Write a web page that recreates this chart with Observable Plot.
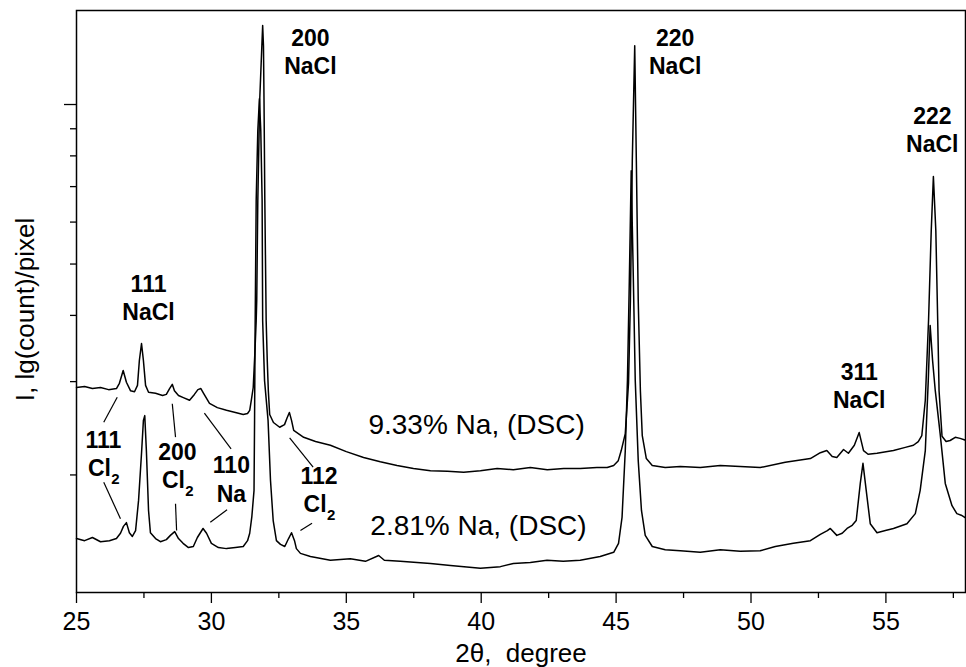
<!DOCTYPE html>
<html><head><meta charset="utf-8">
<script src="https://cdn.jsdelivr.net/npm/d3@7"></script>
<script src="https://cdn.jsdelivr.net/npm/@observablehq/plot@0.6"></script>
<style>html,body{margin:0;padding:0;background:#fff;}</style>
</head><body><div id="chart"></div>
<script>
// 2θ (degree) vs lg(count)
const upper = [[25.00,3.466],[25.30,3.468],[25.59,3.464],[25.89,3.466],[26.19,3.462],[26.48,3.464],[26.59,3.474],[26.73,3.498],[26.85,3.476],[27.00,3.460],[27.15,3.458],[27.26,3.470],[27.33,3.517],[27.41,3.549],[27.48,3.517],[27.56,3.470],[27.67,3.457],[27.93,3.455],[28.19,3.451],[28.33,3.453],[28.45,3.464],[28.55,3.472],[28.63,3.460],[28.78,3.451],[28.96,3.447],[29.19,3.442],[29.37,3.453],[29.50,3.462],[29.61,3.464],[29.71,3.455],[29.93,3.436],[30.22,3.428],[30.56,3.423],[30.89,3.419],[31.18,3.415],[31.34,3.417],[31.42,3.423],[31.48,3.442],[31.55,3.466],[31.61,3.530],[31.66,3.592],[31.68,3.630],[31.72,3.819],[31.79,4.008],[31.87,4.111],[31.90,4.149],[31.93,4.111],[31.95,4.008],[31.98,3.819],[32.03,3.592],[32.07,3.517],[32.11,3.460],[32.16,3.415],[32.30,3.400],[32.53,3.391],[32.71,3.396],[32.80,3.408],[32.89,3.419],[32.97,3.404],[33.05,3.385],[33.42,3.372],[33.86,3.364],[34.41,3.357],[35.00,3.345],[35.64,3.334],[36.26,3.326],[36.88,3.319],[37.49,3.313],[38.12,3.309],[38.75,3.308],[39.35,3.306],[39.97,3.309],[40.59,3.313],[41.19,3.311],[41.82,3.315],[42.45,3.311],[43.06,3.313],[43.67,3.313],[44.29,3.315],[44.67,3.315],[44.91,3.319],[45.08,3.328],[45.19,3.347],[45.34,3.379],[45.46,3.474],[45.53,3.630],[45.60,3.894],[45.69,4.111],[45.75,3.894],[45.82,3.630],[45.90,3.460],[45.97,3.375],[46.12,3.332],[46.34,3.319],[46.82,3.315],[47.38,3.317],[48.12,3.315],[48.86,3.319],[49.60,3.317],[50.34,3.315],[51.27,3.325],[52.20,3.332],[52.57,3.343],[52.81,3.347],[53.01,3.336],[53.18,3.334],[53.43,3.349],[53.61,3.342],[53.83,3.357],[54.01,3.381],[54.17,3.347],[54.34,3.340],[54.67,3.342],[55.28,3.347],[55.72,3.353],[56.02,3.357],[56.20,3.364],[56.33,3.375],[56.46,3.442],[56.58,3.592],[56.68,3.762],[56.76,3.864],[56.85,3.762],[56.92,3.592],[56.97,3.460],[57.08,3.374],[57.23,3.364],[57.38,3.366],[57.57,3.372],[57.75,3.370],[57.98,3.366]];

const lower = [[25.00,3.181],[25.30,3.177],[25.59,3.183],[25.89,3.175],[26.22,3.177],[26.48,3.181],[26.63,3.191],[26.74,3.204],[26.85,3.211],[26.96,3.192],[27.07,3.185],[27.19,3.196],[27.30,3.253],[27.41,3.342],[27.48,3.404],[27.53,3.413],[27.59,3.347],[27.67,3.234],[27.74,3.192],[27.93,3.181],[28.11,3.175],[28.33,3.179],[28.48,3.187],[28.64,3.194],[28.78,3.181],[28.95,3.172],[29.15,3.164],[29.33,3.166],[29.48,3.183],[29.69,3.200],[29.82,3.191],[30.00,3.172],[30.26,3.164],[30.56,3.162],[30.89,3.164],[31.18,3.166],[31.34,3.177],[31.42,3.191],[31.50,3.223],[31.58,3.272],[31.60,3.404],[31.62,3.574],[31.66,3.819],[31.72,3.951],[31.78,4.011],[31.83,3.951],[31.88,3.819],[31.90,3.592],[31.97,3.479],[32.10,3.404],[32.19,3.291],[32.29,3.215],[32.41,3.177],[32.56,3.170],[32.72,3.166],[32.86,3.181],[32.97,3.192],[33.08,3.177],[33.15,3.162],[33.30,3.153],[33.67,3.147],[34.41,3.140],[35.15,3.143],[35.71,3.138],[36.20,3.149],[36.41,3.140],[37.00,3.138],[38.12,3.134],[38.86,3.130],[39.97,3.125],[40.71,3.128],[41.19,3.134],[41.82,3.136],[42.44,3.140],[43.04,3.138],[43.67,3.140],[44.41,3.147],[44.91,3.155],[45.09,3.172],[45.22,3.221],[45.34,3.347],[45.42,3.479],[45.49,3.668],[45.56,3.875],[45.64,3.668],[45.71,3.479],[45.82,3.328],[45.94,3.234],[46.08,3.187],[46.34,3.166],[46.82,3.160],[47.38,3.158],[48.12,3.155],[48.86,3.160],[49.60,3.157],[50.34,3.158],[50.90,3.166],[51.57,3.172],[52.20,3.177],[52.57,3.189],[52.83,3.196],[52.94,3.200],[53.18,3.187],[53.38,3.191],[53.56,3.200],[53.75,3.206],[53.90,3.215],[54.05,3.285],[54.15,3.323],[54.27,3.272],[54.42,3.209],[54.67,3.192],[54.98,3.196],[55.28,3.200],[55.78,3.209],[56.09,3.228],[56.27,3.272],[56.46,3.347],[56.57,3.479],[56.64,3.583],[56.73,3.517],[56.83,3.460],[57.01,3.379],[57.20,3.285],[57.45,3.243],[57.63,3.228],[57.79,3.225],[57.98,3.219]];

const xMajorTicks = [25, 30, 35, 40, 45, 50, 55];
const xMinorTicks = [27.5, 32.5, 37.5, 42.5, 47.5, 52.5, 57.5];
const yMajorCounts = [10000];
const yMinorCounts = [2000, 3000, 4000, 5000, 6000, 7000, 8000, 9000];

const naclHkl = ["111", "200", "220", "311", "222"];
const naclX = [27.67, 33.67, 47.19, 54.01, 56.72];
const naclY = [3.6453, 4.1113, 4.1113, 3.4793, 3.9623];

const cl2Hkl = ["111", "200", "112"];
const cl2X = [26.00, 28.74, 33.99];
const cl2Y = [3.3528, 3.3283, 3.2830];

const naHkl = ["110"];
const naX = [30.74];
const naY = [3.3038];

const leaderX1 = [26.01, 26.01, 28.55, 28.67, 29.74, 30.58, 32.90, 33.73];
const leaderY1 = [3.4006, 3.2874, 3.4353, 3.2466, 3.4176, 3.2353, 3.3711, 3.2100];
const leaderX2 = [26.51, 26.63, 28.67, 28.71, 30.73, 29.96, 33.77, 33.30];
const leaderY2 = [3.4477, 3.2183, 3.3723, 3.1962, 3.3504, 3.2119, 3.3157, 3.1962];

const seriesNames = ["9.33% Na, (DSC)", "2.81% Na, (DSC)"];
const seriesLabelX = [35.82, 35.89];
const seriesLabelY = [3.3783, 3.1868];

const toRows = s => s.map(([x, y]) => ({x, y}));
const naclRows = naclHkl.map((t, i) => ({t, x: naclX[i], y: naclY[i]}));
const cl2Rows = cl2Hkl.map((t, i) => ({t, x: cl2X[i], y: cl2Y[i]}));
const naRows = naHkl.map((t, i) => ({t, x: naX[i], y: naY[i]}));
const leaders = leaderX1.map((x1, i) => ({x1, y1: leaderY1[i], x2: leaderX2[i], y2: leaderY2[i]}));
const seriesRows = seriesNames.map((t, i) => ({t, x: seriesLabelX[i], y: seriesLabelY[i]}));

const font = "'Liberation Sans', Arial, Helvetica, sans-serif";
const bold = {fontWeight: "bold", fontSize: 23, fill: "#000", lineAnchor: "bottom", textAnchor: "middle"};

const chart = Plot.plot({
  width: 966, height: 667,
  marginLeft: 76, marginRight: 1, marginTop: 10, marginBottom: 75,
  style: {fontFamily: font, background: "#fff", color: "#000"},
  x: {domain: [25, 57.95], label: null},
  y: {domain: [3.0792, 4.1774], label: null},
  marks: [
    Plot.axisX(xMajorTicks, {tickSize: 11, tickPadding: 9, fontSize: 25, strokeWidth: 1.3, label: null}),
    Plot.axisX(xMinorTicks, {tickSize: 6, tickFormat: () => "", strokeWidth: 1.3, label: null}),
    Plot.axisY(yMajorCounts.map(Math.log10), {tickSize: 12, tickFormat: () => "", strokeWidth: 1.3, label: null}),
    Plot.axisY(yMinorCounts.map(Math.log10), {tickSize: 6, tickFormat: () => "", strokeWidth: 1.3, label: null}),
    Plot.frame({stroke: "#000", strokeWidth: 1.5}),
    Plot.line(toRows(upper), {x: "x", y: "y", stroke: "#000", strokeWidth: 1.5}),
    Plot.line(toRows(lower), {x: "x", y: "y", stroke: "#000", strokeWidth: 1.5}),
    Plot.link(leaders, {x1: "x1", y1: "y1", x2: "x2", y2: "y2", stroke: "#000", strokeWidth: 1.2}),
    Plot.text(naclRows, {x: "x", y: "y", text: "t", ...bold}),
    Plot.text(naclRows, {x: "x", y: "y", text: () => "NaCl", dy: 28, ...bold}),
    Plot.text(cl2Rows, {x: "x", y: "y", text: "t", ...bold}),
    Plot.text(cl2Rows, {x: "x", y: "y", text: () => "Cl", dy: 28, dx: -4, ...bold}),
    Plot.text(cl2Rows, {x: "x", y: "y", text: () => "2", dy: 36, dx: 12, ...bold, fontSize: 15}),
    Plot.text(naRows, {x: "x", y: "y", text: "t", ...bold}),
    Plot.text(naRows, {x: "x", y: "y", text: () => "Na", dy: 29, ...bold}),
    Plot.text(seriesRows, {x: "x", y: "y", text: "t", fontSize: 28, fill: "#000", textAnchor: "start", lineAnchor: "bottom"}),
    Plot.text(["I, lg(count)/pixel"], {frameAnchor: "left", text: d => d, rotate: -90, textAnchor: "middle", lineAnchor: "middle", dx: -51, dy: 8, fontSize: 26, fill: "#000"}),
    Plot.text(["2\u03b8,\u00a0 degree"], {frameAnchor: "bottom", text: d => d, textAnchor: "middle", lineAnchor: "middle", dy: 61, fontSize: 26, fill: "#000"})
  ]
});
document.getElementById("chart").appendChild(chart);
</script>
</body></html>
